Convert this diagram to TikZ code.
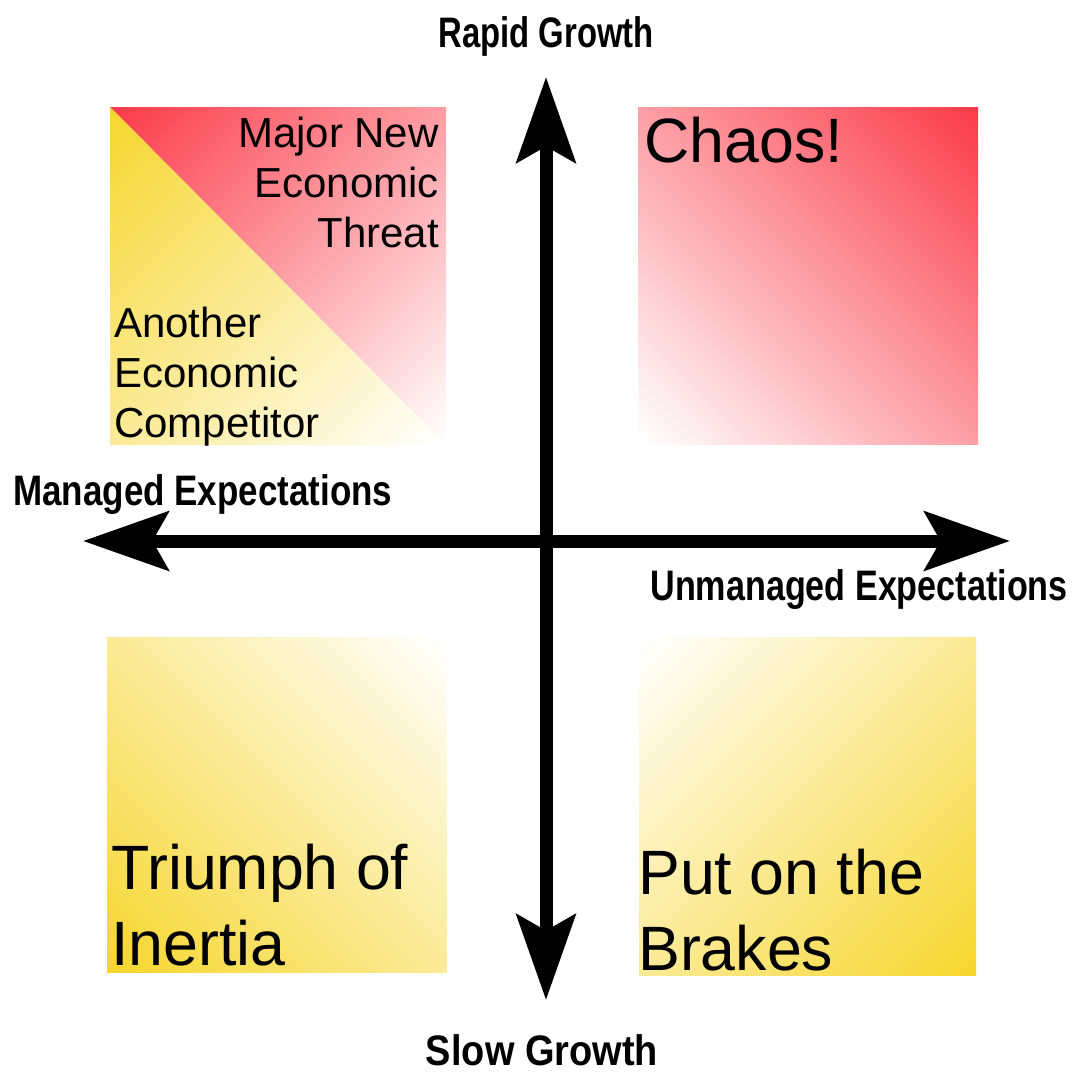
\documentclass[tikz,border=0pt]{standalone}
\usepackage{graphicx}
\usepackage{fontspec}
\setmainfont{Liberation Sans}
\usetikzlibrary{arrows.meta}

\definecolor{hotred}{RGB}{251,60,74}
\definecolor{warmyellow}{RGB}{246,214,46}

% corner-to-corner fades (the corners of a square turned by 45 degrees sit near 15bp and 85bp)
\pgfdeclareverticalshading{fadered}{100bp}{color(0bp)=(white); color(15bp)=(white); color(85bp)=(hotred); color(100bp)=(hotred)}
\pgfdeclareverticalshading{fadeyellow}{100bp}{color(0bp)=(white); color(15bp)=(white); color(85bp)=(warmyellow); color(100bp)=(warmyellow)}
\pgfdeclareverticalshading{riseyellow}{100bp}{color(0bp)=(warmyellow); color(15bp)=(warmyellow); color(85bp)=(white); color(100bp)=(white)}

% narrow bold lettering for the axis names
\newcommand{\squeeze}[2]{\scalebox{#1}[1]{#2}}

\tikzset{
  axis/.style={line width=9.75pt,
    {Stealth[length=64pt,width=44pt,inset=12pt]}-{Stealth[length=64pt,width=44pt,inset=12pt]}},
  axislabel/.style={inner sep=0pt, font=\bfseries\fontsize{32}{32}\selectfont},
  smalltext/.style={inner sep=0pt, font=\fontsize{31.5}{37.5}\selectfont},
  bigtext/.style={inner sep=0pt, font=\fontsize{47}{57}\selectfont},
}

\begin{document}
\begin{tikzpicture}[x=0.75pt,y=0.75pt,yscale=-1,xscale=1]
        \useasboundingbox (0,0) rectangle (1075,1072);

        % quadrant panels
        \shade[shading=fadered, shading angle=45] (110,107) -- (446,107) -- (446,445) -- cycle;
        \shade[shading=fadeyellow, shading angle=45] (110,107) -- (110,445) -- (446,445) -- cycle;
        \shade[shading=fadered, shading angle=-45] (638,107) rectangle (978,444);
        \shade[shading=riseyellow, shading angle=-45] (107,637) rectangle (447,972);
        \shade[shading=riseyellow, shading angle=45] (639,637) rectangle (976,975);

        % axes
        \coordinate (north) at (546,77);
        \coordinate (south) at (546,1000);
        \coordinate (west) at (83,541);
        \coordinate (east) at (1010,541);
        \draw[axis] (north) -- (south);
        \draw[axis] (west) -- (east);

        % axis names
        \node[axislabel, anchor=base] (rapid) at (546,47) {\squeeze{0.77}{Rapid Growth}};
        \node[axislabel, anchor=base] (slow) at (542,1065) {\squeeze{0.89}{Slow Growth}};
        \node[axislabel, anchor=base west] (managed) at (13,505) {\squeeze{0.82}{Managed Expectations}};
        \node[axislabel, anchor=base east] (unmanaged) at (1068,600) {\squeeze{0.8}{Unmanaged Expectations}};

        % quadrant texts
        \node[smalltext, align=right, anchor=north east] (threat) at (439,117) {Major New\\Economic\\Threat};
        \node[smalltext, align=left, anchor=north west] (competitor) at (114,307) {Another\\Economic\\Competitor};
        \node[bigtext, anchor=base west] (chaos) at (644,162) {Chaos!};
        \node[bigtext, align=left, anchor=north west] (inertia) at (111,844) {Triumph of\\Inertia};
        \node[bigtext, align=left, anchor=north west] (brakes) at (638,849) {Put on the\\Brakes};
\end{tikzpicture}
\end{document}
